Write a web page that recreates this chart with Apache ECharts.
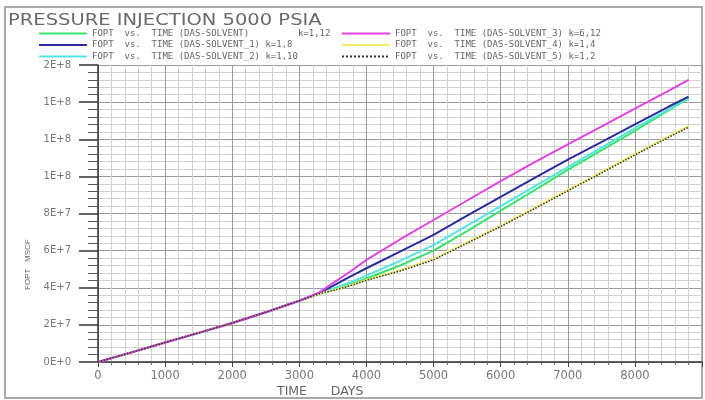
<!DOCTYPE html>
<html>
<head>
<meta charset="utf-8">
<script src="https://cdn.jsdelivr.net/npm/echarts@6/dist/echarts.min.js"></script>
<style>
  html, body { margin: 0; padding: 0; background: #fff; }
  #chart { width: 705px; height: 400px; }
</style>
</head>
<body>
<div id="chart"></div>
<script>
// Simulation time axis (days)
const timeDays = [0, 500, 1000, 1500, 2000, 2500, 3000, 3300, 3500, 3750, 4000, 4500, 5000, 5500, 6000, 6500, 7000, 7500, 8000, 8500, 8800];

// Field oil production total (MSCF) per case
const fopt_solvent   = [0, 5.2e6, 1.05e7, 1.57e7, 2.1e7, 2.68e7, 3.3e7, 3.7e7, 3.9e7, 4.18e7, 4.5e7, 5.2e7, 6.0e7, 7.05e7, 8.15e7, 9.25e7, 1.035e8, 1.14e8, 1.245e8, 1.355e8, 1.42e8];
const fopt_solvent_1 = [0, 5.2e6, 1.05e7, 1.57e7, 2.1e7, 2.68e7, 3.3e7, 3.72e7, 4.1e7, 4.58e7, 5.05e7, 5.95e7, 6.85e7, 7.88e7, 8.9e7, 9.9e7, 1.09e8, 1.185e8, 1.28e8, 1.375e8, 1.43e8];
const fopt_solvent_2 = [0, 5.2e6, 1.05e7, 1.57e7, 2.1e7, 2.68e7, 3.3e7, 3.7e7, 3.95e7, 4.28e7, 4.65e7, 5.45e7, 6.3e7, 7.35e7, 8.4e7, 9.45e7, 1.05e8, 1.155e8, 1.26e8, 1.36e8, 1.425e8];
const fopt_solvent_3 = [0, 5.2e6, 1.05e7, 1.57e7, 2.1e7, 2.68e7, 3.3e7, 3.75e7, 4.25e7, 4.85e7, 5.5e7, 6.6e7, 7.65e7, 8.7e7, 9.75e7, 1.075e8, 1.172e8, 1.268e8, 1.365e8, 1.46e8, 1.52e8];
const fopt_solvent_4 = [0, 5.2e6, 1.05e7, 1.57e7, 2.1e7, 2.68e7, 3.3e7, 3.68e7, 3.87e7, 4.12e7, 4.42e7, 4.95e7, 5.55e7, 6.45e7, 7.35e7, 8.3e7, 9.27e7, 1.023e8, 1.12e8, 1.215e8, 1.27e8];
const fopt_solvent_5 = [0, 5.2e6, 1.05e7, 1.57e7, 2.1e7, 2.68e7, 3.3e7, 3.68e7, 3.85e7, 4.1e7, 4.4e7, 4.9e7, 5.5e7, 6.4e7, 7.3e7, 8.25e7, 9.22e7, 1.018e8, 1.115e8, 1.21e8, 1.265e8];

// Y tick labels as printed by the plotting package (low precision)
const yTickLabels = ['0E+0', '2E+7', '4E+7', '6E+7', '8E+7', '1E+8', '1E+8', '1E+8', '2E+8'];
const xTickLabels = ['0', '1000', '2000', '3000', '4000', '5000', '6000', '7000', '8000'];

const seriesNames = [
  'FOPT  vs.  TIME (DAS-SOLVENT)         k=1,12',
  'FOPT  vs.  TIME (DAS-SOLVENT_1) k=1,8',
  'FOPT  vs.  TIME (DAS-SOLVENT_2) k=1,10',
  'FOPT  vs.  TIME (DAS-SOLVENT_3) k=6,12',
  'FOPT  vs.  TIME (DAS-SOLVENT_4) k=1,4',
  'FOPT  vs.  TIME (DAS-SOLVENT_5) k=1,2'
];
const seriesValues = [fopt_solvent, fopt_solvent_1, fopt_solvent_2, fopt_solvent_3, fopt_solvent_4, fopt_solvent_5];
const seriesColors = ['#3ee070', '#2c2c9c', '#52e6e0', '#e044e0', '#eeee70', '#333333'];
const seriesTypes = ['solid', 'solid', 'solid', 'solid', 'solid', 'dotted'];
// Drawing order: later entries sit on top
const drawOrder = [0, 2, 1, 4, 3, 5];

const FONT = 'DejaVu Sans, Liberation Sans, sans-serif';
const MONO = 'DejaVu Sans Mono, Liberation Mono, monospace';
const chart = echarts.init(document.getElementById('chart'), null, { renderer: 'canvas' });

const series = drawOrder.map(i => ({
  name: seriesNames[i],
  type: 'line',
  symbol: 'none',
  z: 2 + drawOrder.indexOf(i),
  data: timeDays.map((t, k) => [t, seriesValues[i][k]]),
  lineStyle: { color: seriesColors[i], width: i === 5 ? 1.5 : 2, type: seriesTypes[i] },
  itemStyle: { color: seriesColors[i] }
}));

const legendBase = {
  orient: 'vertical', top: 29, padding: 0,
  itemWidth: 48, itemHeight: 8, itemGap: 2.5,
  itemStyle: { opacity: 0 },
  textStyle: { color: '#666', fontSize: 9, fontFamily: MONO }
};

chart.setOption({
  animation: false,
  backgroundColor: '#fff',
  legend: [
    Object.assign({}, legendBase, { left: 38, data: [seriesNames[0], seriesNames[1], seriesNames[2]] }),
    Object.assign({}, legendBase, { left: 341, data: [seriesNames[3], seriesNames[4], seriesNames[5]] })
  ],
  grid: { left: 98, right: 3, top: 65, bottom: 38 },
  xAxis: {
    type: 'value', min: 0, max: 9000, interval: 1000,
    axisLine: { lineStyle: { color: '#333', width: 1.5 } },
    axisTick: { show: true, length: 5, lineStyle: { color: '#444' } },
    minorTick: { show: true, splitNumber: 5, length: 3, lineStyle: { color: '#666' } },
    splitLine: { show: true, lineStyle: { color: '#9a9a9a', width: 1 } },
    minorSplitLine: { show: true, lineStyle: { color: '#d2d2d2', width: 1 } },
    axisLabel: {
      margin: 8, color: '#777', fontSize: 11.5, fontFamily: FONT,
      formatter: v => (v / 1000 < xTickLabels.length ? xTickLabels[v / 1000] : '')
    }
  },
  yAxis: {
    type: 'value', min: 0, max: 1.6e8, interval: 2e7,
    axisLine: { show: true, lineStyle: { color: '#333', width: 1.5 } },
    axisTick: { show: true, length: 19, lineStyle: { color: '#333', width: 1.5 } },
    minorTick: { show: true, splitNumber: 5, length: 10, lineStyle: { color: '#555' } },
    splitLine: { show: true, lineStyle: { color: '#9a9a9a', width: 1 } },
    minorSplitLine: { show: true, lineStyle: { color: '#d2d2d2', width: 1 } },
    axisLabel: {
      margin: 27, color: '#777', fontSize: 10, fontFamily: FONT,
      formatter: v => yTickLabels[Math.round(v / 2e7)]
    }
  },
  graphic: [
    {
      type: 'rect', silent: true, z: -1,
      shape: { x: 5, y: 7, width: 697, height: 391 },
      style: { fill: 'none', stroke: '#aaa', lineWidth: 2 }
    },
    {
      // chart title, drawn with the wide lettering of the plotting package
      type: 'text', x: 8, y: 14, scaleX: 1.3,
      style: { text: 'PRESSURE INJECTION 5000 PSIA', fill: '#6a6a6a', fontSize: 15, fontFamily: FONT }
    },
    {
      type: 'text', left: 277, top: 385,
      style: { text: 'TIME      DAYS', fill: '#666', fontSize: 12.5, fontFamily: FONT }
    },
    {
      type: 'text', x: 24, y: 290, rotation: Math.PI / 2,
      style: { text: 'FOPT   MSCF', fill: '#666', fontSize: 8, fontFamily: 'Liberation Sans, sans-serif' }
    }
  ],
  series: series
});
</script>
</body>
</html>
